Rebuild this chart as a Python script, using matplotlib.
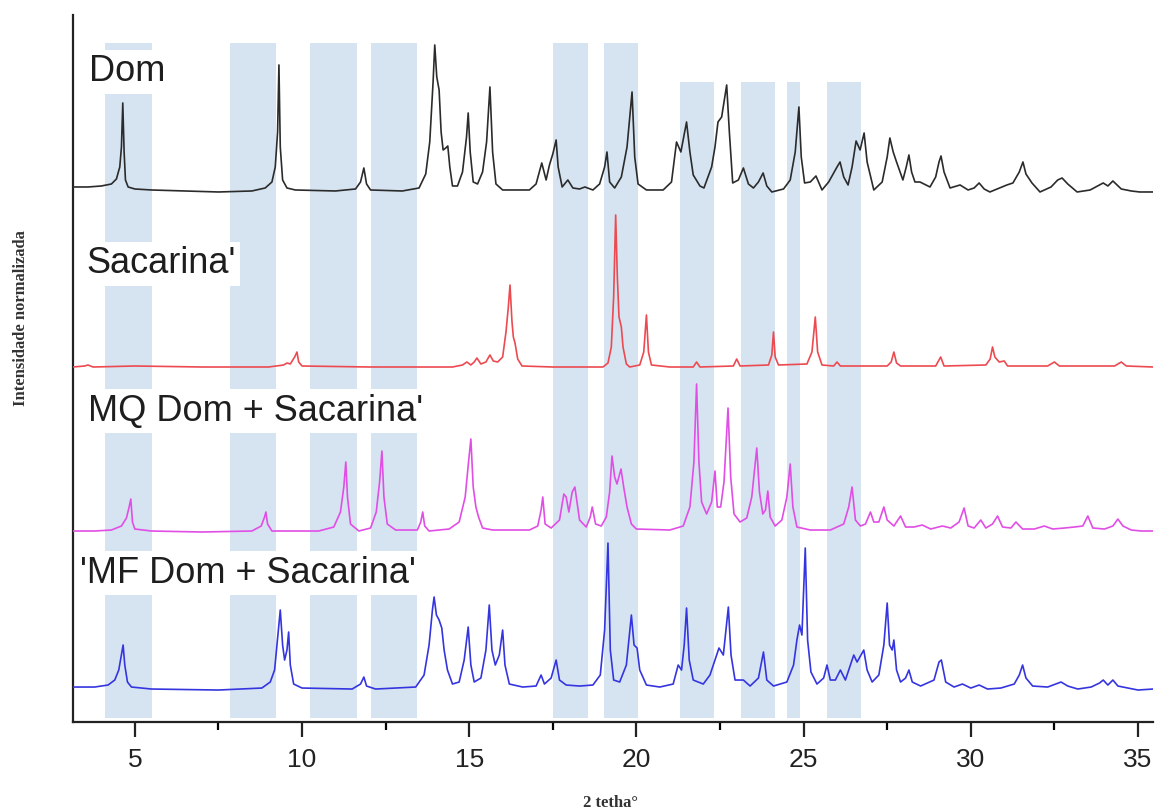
import matplotlib
matplotlib.use("Agg")
import matplotlib.pyplot as plt
import numpy as np

# 2theta / intensidade (u.a., acima da linha de base de cada difratograma)
dom_2t = [3.15, 3.6, 4.0, 4.3, 4.45, 4.55, 4.6, 4.64, 4.68, 4.72, 4.8, 5.0, 5.5, 6.5, 7.5, 8.5,
          8.9, 9.1, 9.2, 9.27, 9.31, 9.35, 9.42, 9.55, 9.8, 11.0, 11.6, 11.75, 11.85, 11.93, 12.05,
          13.0, 13.5, 13.7, 13.82, 13.92, 13.97, 14.03, 14.1, 14.16, 14.22, 14.3, 14.36, 14.42,
          14.5, 14.65, 14.8, 14.92, 14.97, 15.03, 15.12, 15.25, 15.4, 15.52, 15.62, 15.7, 15.8,
          16.0, 16.8, 17.0, 17.17, 17.3, 17.4, 17.5, 17.6, 17.66, 17.78, 17.95, 18.1, 18.3, 18.46,
          18.7, 18.9, 19.05, 19.12, 19.2, 19.35, 19.55, 19.72, 19.87, 19.95, 20.05, 20.3, 20.8,
          21.05, 21.2, 21.33, 21.5, 21.6, 21.7, 21.9, 22.02, 22.14, 22.25, 22.35, 22.44, 22.55,
          22.7, 22.78, 22.88, 23.05, 23.2, 23.35, 23.5, 23.65, 23.79, 23.9, 24.05, 24.4, 24.6,
          24.75, 24.86, 24.93, 25.03, 25.2, 25.37, 25.55, 25.75, 25.85, 26.0, 26.09, 26.2, 26.33,
          26.45, 26.57, 26.69, 26.81, 26.9, 27.1, 27.35, 27.5, 27.58, 27.68, 27.78, 27.97, 28.07,
          28.15, 28.23, 28.33, 28.48, 28.78, 28.95, 29.05, 29.11, 29.2, 29.38, 29.68, 29.92, 30.1,
          30.25, 30.4, 30.57, 31.08, 31.26, 31.45, 31.56, 31.65, 31.83, 32.07, 32.4, 32.6, 32.73,
          32.9, 33.18, 33.57, 33.96, 34.1, 34.25, 34.5, 34.8, 35.05, 35.45]
dom_int = [5, 5, 6, 8, 13, 25, 45, 89, 40, 12, 5, 3, 2, 1, 0, 1,
           4, 10, 25, 60, 127, 45, 12, 4, 2, 1, 3, 10, 24, 8, 2,
           1, 4, 18, 50, 110, 147, 115, 102, 60, 42, 44, 46, 25,
           6, 6, 20, 55, 79, 40, 10, 8, 20, 50, 105, 40, 8,
           2, 2, 8, 29, 12, 27, 38, 52, 25, 5, 12, 4, 3, 5,
           2, 8, 25, 40, 10, 4, 15, 45, 100, 35, 8, 2, 2,
           10, 50, 40, 70, 40, 17, 6, 4, 15, 25, 45, 70, 75,
           107, 60, 9, 12, 24, 8, 4, 10, 19, 6, 0, 3, 12,
           40, 85, 35, 9, 10, 16, 2, 10, 16, 25, 30, 15, 7,
           25, 51, 42, 59, 30, 2, 10, 35, 54, 40, 30, 12, 25,
           37, 20, 10, 10, 5, 15, 30, 36, 20, 4, 7, 2, 4,
           9, 3, 0, 7, 9, 20, 30, 18, 9, 0, 5, 12, 14,
           8, 0, 2, 9, 6, 11, 3, 1, 0, 0]

sac_2t = [3.15, 3.5, 3.6, 3.75, 5.0, 7.0, 9.0, 9.45, 9.55, 9.65, 9.78, 9.85, 9.9, 10.0, 12.0,
          14.5, 14.8, 14.93, 15.05, 15.15, 15.23, 15.35, 15.5, 15.62, 15.72, 15.85, 16.0, 16.1,
          16.17, 16.22, 16.28, 16.32, 16.37, 16.45, 16.58, 17.5, 19.0, 19.15, 19.25, 19.32, 19.38,
          19.43, 19.48, 19.55, 19.6, 19.7, 19.8, 20.1, 20.22, 20.3, 20.36, 20.45, 21.0, 21.7,
          21.8, 21.9, 22.9, 23.0, 23.1, 23.95, 24.05, 24.1, 24.15, 24.25, 25.1, 25.25, 25.35,
          25.42, 25.55, 25.9, 26.0, 26.1, 27.5, 27.62, 27.7, 27.78, 27.9, 28.95, 29.1, 29.2,
          30.45, 30.58, 30.65, 30.72, 30.85, 31.0, 31.1, 32.3, 32.5, 32.65, 34.3, 34.5, 34.65, 35.45]
sac_int = [0, 1, 2, 0, 1, 0, 0, 2, 4, 3, 10, 15, 5, 1, 0,
           0, 2, 5, 2, 5, 9, 3, 5, 12, 6, 5, 10, 35,
           60, 82, 45, 30, 24, 8, 1, 0, 0, 4, 20, 70, 152,
           90, 50, 40, 20, 3, 0, 2, 15, 52, 15, 2, 0, 0,
           5, 0, 1, 8, 1, 2, 12, 35, 10, 2, 3, 15, 50,
           15, 2, 1, 5, 1, 1, 5, 15, 4, 1, 1, 10, 1,
           2, 8, 20, 10, 5, 6, 1, 1, 5, 1, 1, 5, 1, 0]

mq_2t = [3.15, 3.8, 4.3, 4.6, 4.75, 4.83, 4.88, 4.93, 5.0, 5.5, 7.0, 8.5, 8.78, 8.88, 8.92, 8.97,
         9.1, 10.5, 10.95, 11.15, 11.25, 11.31, 11.36, 11.45, 11.7, 12.05, 12.22, 12.32, 12.39,
         12.45, 12.55, 12.8, 13.45, 13.55, 13.61, 13.67, 13.8, 14.4, 14.7, 14.88, 14.98, 15.05,
         15.12, 15.2, 15.28, 15.4, 15.7, 16.8, 17.05, 17.15, 17.2, 17.27, 17.45, 17.7, 17.83,
         17.9, 17.98, 18.08, 18.16, 18.3, 18.5, 18.62, 18.68, 18.78, 18.95, 19.1, 19.2, 19.27,
         19.35, 19.42, 19.54, 19.62, 19.72, 19.85, 20.0, 21.0, 21.4, 21.6, 21.72, 21.8, 21.87,
         21.95, 22.1, 22.25, 22.35, 22.42, 22.52, 22.62, 22.74, 22.82, 22.92, 23.1, 23.3, 23.45,
         23.6, 23.68, 23.78, 23.86, 23.93, 24.0, 24.15, 24.35, 24.5, 24.6, 24.68, 24.8, 25.2,
         25.8, 26.2, 26.35, 26.45, 26.55, 26.7, 26.85, 27.0, 27.1, 27.25, 27.4, 27.5, 27.7,
         27.9, 28.05, 28.3, 28.55, 28.8, 29.15, 29.4, 29.65, 29.8, 29.92, 30.1, 30.3, 30.45,
         30.65, 30.8, 30.95, 31.2, 31.35, 31.55, 31.9, 32.2, 32.45, 32.8, 33.1, 33.35, 33.5,
         33.65, 34.0, 34.25, 34.4, 34.55, 34.8, 35.1, 35.45]
mq_int = [1, 1, 2, 6, 14, 25, 33, 10, 3, 1, 0, 1, 6, 15, 20, 8,
          1, 1, 5, 20, 45, 70, 35, 8, 1, 4, 20, 50, 81,
          35, 8, 2, 2, 10, 20, 6, 1, 3, 10, 35, 70, 93,
          45, 25, 15, 4, 2, 2, 6, 22, 35, 8, 4, 12, 38,
          35, 20, 40, 45, 12, 5, 15, 25, 8, 6, 15, 40, 76,
          55, 48, 63, 45, 25, 8, 3, 2, 6, 25, 70, 148, 70,
          30, 18, 30, 61, 25, 25, 50, 124, 55, 18, 10, 14, 35,
          84, 40, 18, 22, 41, 15, 6, 12, 35, 68, 25, 5, 2,
          2, 8, 25, 45, 12, 6, 8, 20, 10, 10, 25, 12, 6,
          16, 5, 5, 7, 3, 6, 4, 10, 24, 6, 4, 12, 4,
          8, 16, 5, 4, 10, 3, 3, 6, 3, 4, 5, 6, 16,
          4, 3, 6, 13, 6, 2, 1, 1]

mf_2t = [3.15, 3.8, 4.2, 4.4, 4.52, 4.6, 4.65, 4.7, 4.78, 4.9, 5.5, 7.5, 8.8, 9.05, 9.18, 9.28,
         9.35, 9.42, 9.48, 9.55, 9.6, 9.65, 9.75, 10.0, 11.5, 11.75, 11.85, 11.93, 12.2, 13.4,
         13.65, 13.8, 13.9, 13.95, 14.02, 14.1, 14.18, 14.25, 14.35, 14.5, 14.7, 14.85, 14.97,
         15.05, 15.15, 15.35, 15.5, 15.6, 15.68, 15.78, 15.9, 16.0, 16.07, 16.2, 16.6, 17.0,
         17.15, 17.25, 17.45, 17.6, 17.7, 17.9, 18.3, 18.7, 18.92, 19.05, 19.15, 19.22, 19.32,
         19.5, 19.7, 19.85, 19.93, 20.02, 20.1, 20.3, 20.7, 21.1, 21.25, 21.35, 21.43, 21.5,
         21.58, 21.7, 22.0, 22.2, 22.35, 22.47, 22.6, 22.75, 22.83, 22.95, 23.2, 23.4, 23.65,
         23.8, 23.9, 24.1, 24.5, 24.7, 24.8, 24.88, 24.95, 25.05, 25.12, 25.22, 25.4, 25.6,
         25.7, 25.8, 25.95, 26.1, 26.25, 26.4, 26.5, 26.6, 26.8, 26.9, 27.05, 27.25, 27.4,
         27.5, 27.57, 27.65, 27.7, 27.78, 27.9, 28.05, 28.15, 28.25, 28.5, 28.9, 29.05, 29.12,
         29.25, 29.5, 29.75, 30.0, 30.25, 30.5, 30.9, 31.3, 31.45, 31.55, 31.65, 31.85, 32.3,
         32.7, 32.9, 33.2, 33.6, 33.85, 33.96, 34.1, 34.25, 34.4, 34.7, 35.0, 35.45]
mf_int = [3, 3, 5, 10, 20, 35, 45, 25, 8, 3, 1, 0, 2, 8, 20, 55,
          80, 45, 30, 40, 58, 25, 6, 2, 1, 6, 13, 4, 1, 3,
          15, 45, 80, 93, 75, 70, 62, 40, 20, 6, 8, 30, 63,
          25, 8, 12, 40, 85, 40, 25, 35, 60, 25, 6, 3, 4,
          15, 6, 12, 30, 10, 5, 4, 5, 15, 60, 147, 40, 10,
          8, 25, 75, 45, 42, 20, 5, 3, 6, 25, 20, 45, 82,
          30, 10, 6, 15, 30, 42, 35, 83, 35, 10, 10, 4, 12,
          38, 10, 4, 8, 25, 50, 65, 55, 142, 50, 18, 6, 12,
          25, 10, 10, 20, 10, 25, 35, 28, 40, 20, 8, 15, 45,
          87, 45, 40, 50, 20, 8, 12, 20, 8, 4, 10, 28, 30,
          8, 3, 6, 2, 5, 1, 2, 6, 15, 25, 12, 4, 3,
          8, 4, 1, 3, 7, 10, 5, 10, 4, 2, 0, 1]

# deslocamento vertical de cada difratograma
offsets = {"Dom": 530, "Sacarina": 355, "MQ": 190, "MF": 32}

# regioes destacadas (2theta)
bands = [(4.10, 5.51), (7.84, 9.22), (10.23, 11.64), (12.06, 13.44), (17.5, 18.55),
         (19.03, 20.05), (21.3, 22.32), (23.13, 24.14), (24.5, 24.9), (25.7, 26.72)]
band_top = [0.96, 0.96, 0.96, 0.96, 0.96, 0.96, 0.905, 0.905, 0.905, 0.905]

fig = plt.figure(figsize=(11.58, 8.09), dpi=100)
ax = fig.add_axes([0.063, 0.1075, 0.9327, 0.874])

for (a, b), top in zip(bands, band_top):
    ax.axvspan(a, b, ymin=0.005, ymax=top, color="#d6e4f1", lw=0, zorder=0)

ax.plot(dom_2t, np.array(dom_int) + offsets["Dom"], color="#2b2b2b", lw=1.2, zorder=3)
ax.plot(sac_2t, np.array(sac_int) + offsets["Sacarina"], color="#ec4a50", lw=1.2, zorder=3)
ax.plot(mq_2t, np.array(mq_int) + offsets["MQ"], color="#e14ee6", lw=1.2, zorder=3)
ax.plot(mf_2t, np.array(mf_int) + offsets["MF"], color="#3535e0", lw=1.2, zorder=3)

lbl = dict(fontsize=26, color="#1e1e1e", family="Liberation Sans", va="center", ha="left", zorder=2,
           bbox=dict(facecolor="white", edgecolor="none", pad=3))
ax.text(3.62, 650, "Dom", **lbl)
ax.text(3.55, 458, "Sacarina'", **lbl)
ax.text(3.6, 311, "MQ Dom + Sacarina'", **lbl)
ax.text(3.35, 149, "'MF Dom + Sacarina'", **lbl)

ax.set_xlim(3.15, 35.45)
ax.set_ylim(0, 707)
ax.set_xticks([5, 10, 15, 20, 25, 30, 35])
ax.set_xticks(np.arange(7.5, 35, 5), minor=True)
ax.set_yticks([])
ax.tick_params(axis="x", which="major", length=11, width=1.6, labelsize=19, pad=8, colors="#222222")
ax.tick_params(axis="x", which="minor", length=6, width=1.6)
for lab in ax.get_xticklabels():
    lab.set_family("Liberation Sans")
for s in ["top", "right"]:
    ax.spines[s].set_visible(False)
ax.spines["left"].set_linewidth(1.6)
ax.spines["bottom"].set_linewidth(1.6)
ax.spines["left"].set_color("#222222")
ax.spines["bottom"].set_color("#222222")

fig.text(0.018, 0.607, "Intensidade normalizada", rotation=90, ha="center", va="center",
         family="Liberation Serif", fontweight="bold", fontsize=12, color="#333333")
fig.text(0.527, 0.008, "2 tetha°", ha="center", va="center",
         family="Liberation Serif", fontweight="bold", fontsize=12, color="#333333")

fig.savefig("out.png", dpi=100)
